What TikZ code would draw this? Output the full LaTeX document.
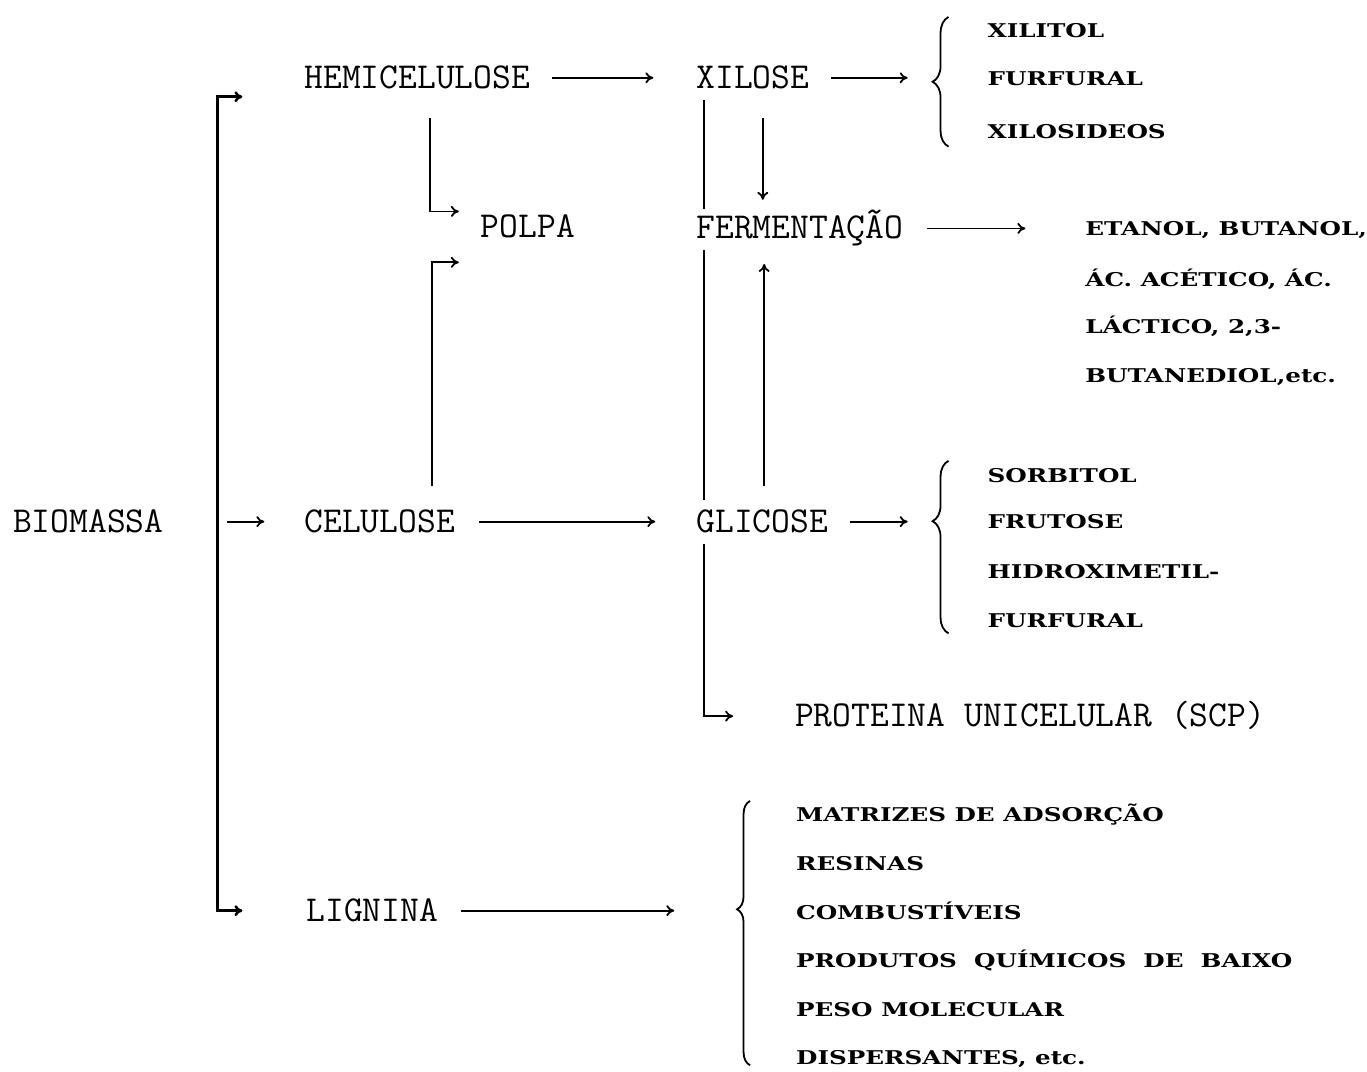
\documentclass[tikz,border=0pt]{standalone}
\usepackage{fontspec}
\usepackage{tikz}
\usetikzlibrary{arrows.meta,decorations.pathreplacing}
\newfontfamily\prodfont[FakeStretch=1.3]{DejaVu Serif Bold}

\begin{document}
\begin{tikzpicture}[
    x=1pt, y=-1pt,
    >={To[length=8pt,width=11pt]},
    every node/.style={inner sep=0pt, anchor=west},
    stage/.style={font=\ttfamily\fontsize{36.6}{40}\selectfont,
                  text height=21pt, text depth=0pt},
    product/.style={font=\prodfont\fontsize{19}{23}\selectfont,
                    text height=13.5pt, text depth=0pt},
    flow/.style={->, line width=1.8pt},
    curly/.style={decorate, decoration={brace, amplitude=16pt}, line width=1.8pt}
]
\fill[white] (0,0) rectangle (1367,1074);

\node[stage] (biomassa) at (13,523) {BIOMASSA};
\node[stage] (hemi) at (305,78) {HEMICELULOSE};
\node[stage] (xilose) at (698,78) {XILOSE};
\node[stage] (polpa) at (482,228) {POLPA};
\node[stage] (ferm) at (698,229) {FERMENTAÇÃO};
\node[stage] (celulose) at (305,523) {CELULOSE};
\node[stage] (glicose) at (698,523) {GLICOSE};
\node[stage] (proteina) at (797,718) {PROTEINA UNICELULAR (SCP)};
\node[stage] (lignina) at (307,913) {LIGNINA};

\node[product] (xilitol) at (990,31) {XILITOL};
\node[product] (furfural) at (990,79) {FURFURAL};
\node[product] (xilosideos) at (990,132) {XILOSIDEOS};
\node[product] (etanol) at (1088,229) {ETANOL, BUTANOL,};
\node[product] (acetico) at (1088,280) {ÁC. ACÉTICO, ÁC.};
\node[product] (lactico) at (1088,328) {LÁCTICO, 2,3-};
\node[product] (butanediol) at (1088,377) {BUTANEDIOL,etc.};
\node[product] (sorbitol) at (990,477) {SORBITOL};
\node[product] (frutose) at (990,523) {FRUTOSE};
\node[product] (hidroxi) at (990,573) {HIDROXIMETIL-};
\node[product] (furfuralg) at (990,622) {FURFURAL};
\node[product] (matrizes) at (798,817) {MATRIZES DE ADSORÇÃO};
\node[product] (resinas) at (798,866) {RESINAS};
\node[product] (combust) at (798,915) {COMBUSTÍVEIS};
\node[product] (produtos) at (798,963) {PRODUTOS~~QUÍMICOS~~DE~~BAIXO};
\node[product] (peso) at (798,1012) {PESO MOLECULAR};
\node[product] (dispers) at (798,1060) {DISPERSANTES, etc.};

\coordinate (tophook) at (243,97);
\coordinate (bothook) at (243,913);
\coordinate (split) at (228,523);
\coordinate (xbrace) at (935,78);
\coordinate (gbrace) at (935,523);
\coordinate (lbrace) at (739,913);

\draw[<->, line width=2.6pt] (tophook) -- ++(-25,0) |- (bothook);
\draw[flow, shorten >=40pt] (split) -- (celulose.west);

\draw[flow, shorten <=22pt, shorten >=43pt] (hemi.east) -- (xilose.west);
\draw[flow, shorten <=22pt, shorten >=25pt] (xilose.east) -- (xbrace);
\draw[flow, shorten <=24pt, shorten >=41pt] (celulose.east) -- (glicose.west);
\draw[flow, shorten <=22pt, shorten >=25pt] (glicose.east) -- (gbrace);
\draw[flow, shorten <=24pt, shorten >=60pt] (ferm.east) -- (etanol.west);
\draw[flow, shorten <=23pt, shorten >=63pt] (lignina.east) -- (lbrace);

\draw[flow, shorten >=22pt] ([xshift=126pt,yshift=-30pt]hemi.south west) |- ([yshift=16pt]polpa.west);
\draw[flow, shorten >=22pt] ([xshift=128pt,yshift=25pt]celulose.north west) |- ([yshift=-35pt]polpa.west);

\draw[flow, shorten <=30pt, shorten >=18pt] ([xshift=10pt]xilose.south) -- ([xshift=10pt]xilose.south |- ferm.north);
\draw[flow, shorten <=25pt, shorten >=25pt] ([xshift=2pt]glicose.north) -- ([xshift=2pt]glicose.north |- ferm.south);

\draw[line width=1.8pt] ([xshift=8pt,yshift=-12pt]xilose.south west) -- ([xshift=8pt,yshift=9pt]ferm.north west);
\draw[line width=1.8pt] ([xshift=8pt,yshift=-11pt]ferm.south west) -- ([xshift=8pt,yshift=11pt]glicose.north west);
\draw[flow, shorten >=62pt] ([xshift=8pt,yshift=-12pt]glicose.south west) |- (proteina.west);

\draw[curly] (951,147) -- (951,17);
\draw[curly, decoration={aspect=0.65}] (951,635) -- (951,462);
\draw[curly, decoration={aspect=0.59, amplitude=13pt}] (752,1068) -- (752,803);
\end{tikzpicture}
\end{document}
